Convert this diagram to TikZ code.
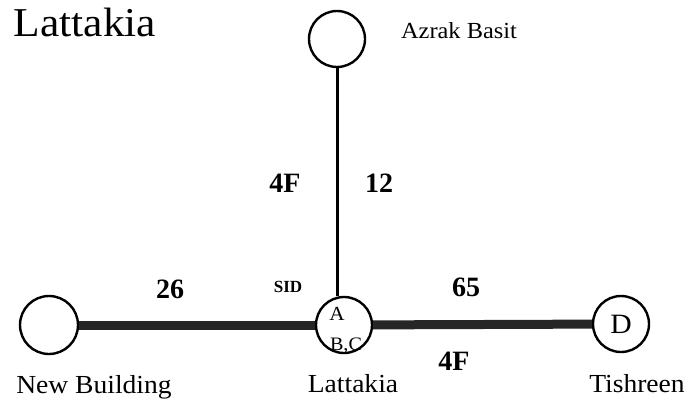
\documentclass[tikz,border=0pt]{standalone}
\usepackage{fontspec}
\setmainfont[FakeStretch=1.06]{Liberation Serif}
\newfontfamily\numfont{Liberation Serif}
\usetikzlibrary{positioning}

\begin{document}
\begin{tikzpicture}[
  x=1pt, y=-1pt,
  station/.style={draw, circle, line width=2.4pt, inner sep=0pt, minimum size=56pt},
  place/.style={anchor=base, inner sep=0pt, font=\fontsize{26}{26}\selectfont},
  count/.style={anchor=base, inner sep=0pt, font=\numfont\bfseries\fontsize{28}{28}\selectfont},
  trunk/.style={line width=9pt, black!85},
  spur/.style={line width=3pt}
]
\useasboundingbox (0,0) rectangle (690,404);

\node[place, font=\fontsize{41}{41}\selectfont] (title) at (85,37) {Lattakia};

% Stations
\node[station] (azrak) at (337,39) {};
\node[station] (lat)   at (344,325) {};
\node[station, minimum size=58pt] (newb) at (49,325) {};
\node[station, font=\fontsize{28}{28}\selectfont] (tish) at (621,324) {D};

\node[place, font=\fontsize{20}{20}\selectfont] (platA)  at (337,320) {A};
\node[place, font=\fontsize{19}{19}\selectfont] (platBC) at (346,350) {B,C};

% Lines
\draw[spur]  (azrak.south) -- (azrak.south |- lat.north);
\draw[trunk] (newb) -- (lat);
\draw[trunk] (lat)  -- (tish);

% Station names
\node[place, font=\fontsize{23}{23}\selectfont] (azrakname) at (459,38) {Azrak Basit};
\node[place] (newbname) at (94,393)  {New Building};
\node[place] (latname)  at (353,392) {Lattakia};
\node[place] (tishname) at (637,392) {Tishreen};

% Counts
\node[count] (upF)   at (285,192) {4F};
\node[count] (upN)   at (379,192) {12};
\node[count] (leftN) at (170,298) {26};
\node[count, font=\numfont\bfseries\fontsize{17}{17}\selectfont] (sid) at (288,292) {SID};
\node[count] (rightN) at (466,296) {65};
\node[count] (lowF)   at (454,370) {4F};
\end{tikzpicture}
\end{document}
